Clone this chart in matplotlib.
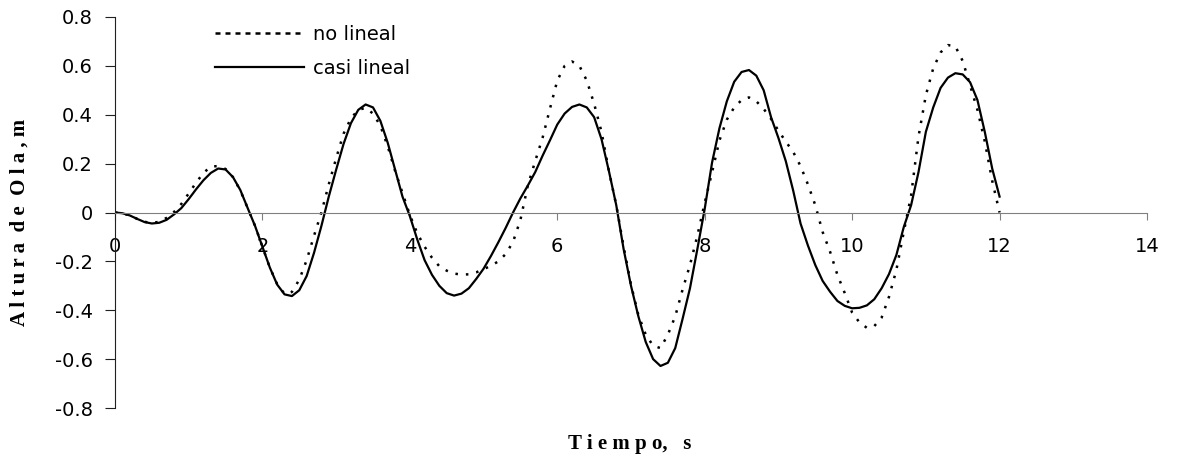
import matplotlib
matplotlib.use("Agg")
import matplotlib.pyplot as plt
import numpy as np

# tiempo de muestreo cada 0.1 s
tiempo = np.round(np.arange(0, 121) * 0.1, 1)

no_lineal = [
	0.000, -0.003, -0.012, -0.026, -0.038, -0.043, -0.038, -0.022, 0.002, 0.035,
	0.078, 0.122, 0.162, 0.188, 0.190, 0.178, 0.145, 0.090, 0.018, -0.055,
	-0.140, -0.225, -0.293, -0.333, -0.325, -0.275, -0.195, -0.095, 0.000, 0.115,
	0.222, 0.322, 0.385, 0.420, 0.428, 0.405, 0.355, 0.270, 0.170, 0.080,
	-0.010, -0.085, -0.140, -0.185, -0.220, -0.238, -0.250, -0.254, -0.253, -0.245,
	-0.232, -0.218, -0.200, -0.170, -0.120, -0.030, 0.110, 0.210, 0.305, 0.424,
	0.540, 0.600, 0.618, 0.600, 0.540, 0.445, 0.330, 0.170, 0.030, -0.140,
	-0.295, -0.420, -0.500, -0.545, -0.555, -0.500, -0.425, -0.315, -0.215, -0.095,
	0.040, 0.165, 0.295, 0.380, 0.430, 0.460, 0.471, 0.455, 0.424, 0.383,
	0.335, 0.290, 0.248, 0.190, 0.115, 0.030, -0.080, -0.160, -0.255, -0.330,
	-0.410, -0.450, -0.472, -0.465, -0.430, -0.345, -0.235, -0.080, 0.070, 0.310,
	0.480, 0.590, 0.655, 0.685, 0.680, 0.620, 0.520, 0.420, 0.290, 0.130,
	0.000]

casi_lineal = [
	0.000, -0.003, -0.012, -0.026, -0.039, -0.045, -0.042, -0.030, -0.008, 0.018,
	0.055, 0.095, 0.132, 0.162, 0.180, 0.176, 0.145, 0.092, 0.018, -0.055,
	-0.140, -0.225, -0.295, -0.335, -0.342, -0.318, -0.260, -0.165, -0.055, 0.065,
	0.175, 0.280, 0.365, 0.420, 0.442, 0.430, 0.375, 0.285, 0.175, 0.065,
	-0.015, -0.110, -0.195, -0.255, -0.300, -0.330, -0.340, -0.332, -0.310, -0.272,
	-0.230, -0.178, -0.122, -0.063, 0.000, 0.058, 0.110, 0.165, 0.232, 0.295,
	0.360, 0.405, 0.432, 0.442, 0.430, 0.390, 0.300, 0.170, 0.030, -0.150,
	-0.300, -0.425, -0.530, -0.600, -0.628, -0.615, -0.555, -0.435, -0.310, -0.150,
	0.015, 0.205, 0.345, 0.455, 0.535, 0.575, 0.583, 0.560, 0.500, 0.390,
	0.305, 0.210, 0.090, -0.045, -0.135, -0.215, -0.280, -0.324, -0.362, -0.382,
	-0.392, -0.390, -0.380, -0.355, -0.310, -0.252, -0.174, -0.060, 0.030, 0.165,
	0.330, 0.430, 0.510, 0.552, 0.570, 0.565, 0.533, 0.460, 0.329, 0.180,
	0.065]

xticks = [0, 2, 4, 6, 8, 10, 12, 14]
yticks = [-0.8, -0.6, -0.4, -0.2, 0, 0.2, 0.4, 0.6, 0.8]
ytick_labels = ['-0.8', '-0.6', '-0.4', '-0.2', '0', '0.2', '0.4', '0.6', '0.8']

plt.rcParams['font.family'] = 'DejaVu Sans'
plt.rcParams['axes.unicode_minus'] = False

fig = plt.figure(figsize=(11.77, 4.59), dpi=100)
ax = fig.add_axes([115/1177, 51/459, 1032/1177, 391/459])

ax.plot(tiempo, no_lineal, color='black', lw=1.8, linestyle=(0, (1, 3.2)), label='no lineal')
ax.plot(tiempo, casi_lineal, color='black', lw=1.6, linestyle='-', label='casi lineal')

ax.set_xlim(0, 14)
ax.set_ylim(-0.8, 0.8)

# eje x cruzando en y=0, como en Excel
ax.spines['bottom'].set_position(('data', 0))
ax.spines['bottom'].set_color('#808080')
ax.spines['left'].set_color('#202020')
ax.spines['top'].set_visible(False)
ax.spines['right'].set_visible(False)

ax.set_xticks(xticks)
ax.set_yticks(yticks)
ax.set_yticklabels(ytick_labels)
ax.tick_params(axis='x', direction='out', length=5, color='#808080', pad=13, labelsize=14)
ax.tick_params(axis='y', direction='out', length=7, color='#202020', pad=9, labelsize=14)

leg = ax.legend(loc='upper left', bbox_to_anchor=(215/1177, 1 - 25/459),
	bbox_transform=fig.transFigure, frameon=False, fontsize=14,
	handlelength=4.6, handletextpad=0.45, labelspacing=0.75,
	borderpad=0, borderaxespad=0)
leg.get_lines()[0].set_linestyle((0, (2, 2)))

fig.text(630/1177, 15/459, 'T i e m p o,   s', ha='center', va='center',
	family='Liberation Serif', fontweight='bold', fontsize=15)
fig.text(20/1177, 237/459, 'A l t u r a  d e  O l a , m', ha='center', va='center',
	rotation=90, family='Liberation Serif', fontweight='bold', fontsize=15)

fig.savefig('out.png', dpi=100)
